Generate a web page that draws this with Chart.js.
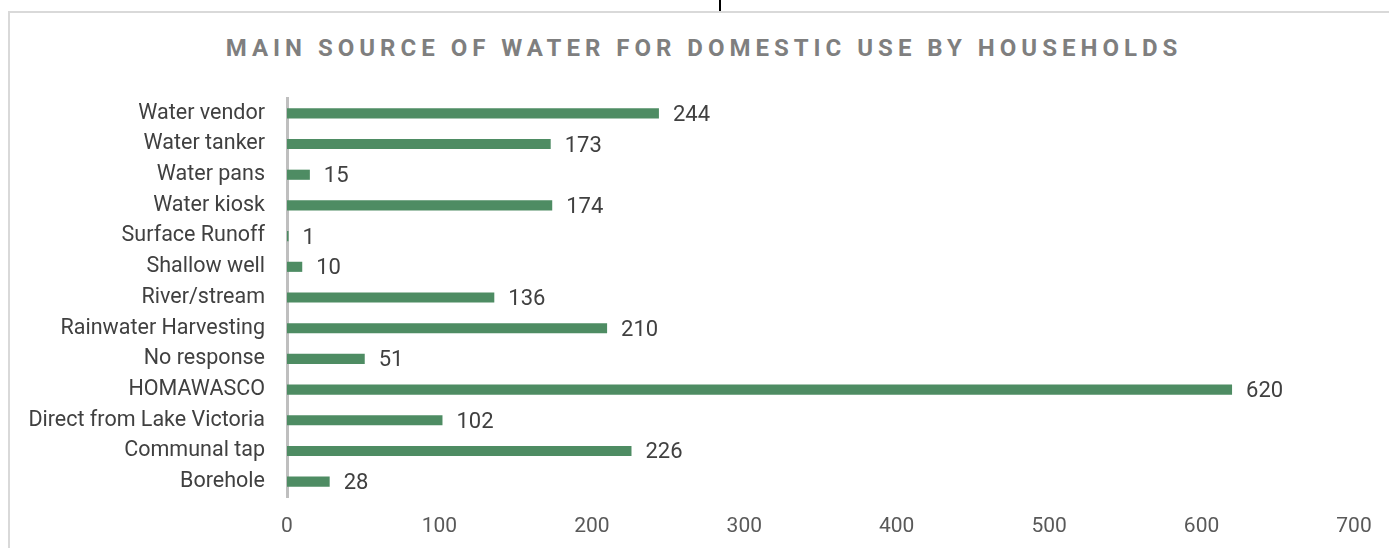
<!DOCTYPE html>
<html>
<head>
<meta charset="utf-8">
<script src="https://cdn.jsdelivr.net/npm/chart.js@4.4.0/dist/chart.umd.min.js"></script>
<style>
  html, body { margin: 0; padding: 0; background: #fff; }
  #wrap { position: relative; width: 1389px; height: 548px; overflow: hidden; }
  #frame { position: absolute; left: 8px; top: 11px; width: 1390px; height: 560px;
           border-left: 2px solid #d9d9d9; border-top: 2px solid #d9d9d9; }
  #mark { position: absolute; left: 719px; top: 0; width: 2px; height: 11px; background: #000; }
  #title { position: absolute; left: 19px; top: 34px; width: 1370px; text-align: center;
           font: bold 24px Roboto, sans-serif; letter-spacing: 5px; color: #7f7f7f; line-height: 28px; }
  canvas { position: absolute; left: 0; top: 0; }
</style>
</head>
<body>
<div id="wrap">
  <div id="frame"></div>
  <div id="mark"></div>
  <div id="title">MAIN SOURCE OF WATER FOR DOMESTIC USE BY HOUSEHOLDS</div>
  <canvas id="cav" width="1389" height="548"></canvas>
</div>
<script>
// Chart data
var categories = ['Borehole', 'Communal tap', 'Direct from Lake Victoria', 'HOMAWASCO', 'No response',
    'Rainwater Harvesting', 'River/stream', 'Shallow well', 'Surface Runoff', 'Water kiosk',
    'Water pans', 'Water tanker', 'Water vendor'];
var households = [28, 226, 102, 620, 51, 210, 136, 10, 1, 174, 15, 173, 244];
var xTicks = [0, 100, 200, 300, 400, 500, 600, 700];

var valueLabels = {
    id: 'valueLabels',
    afterDatasetsDraw: function(chart) {
        var ctx = chart.ctx;
        ctx.save();
        ctx.font = '22px Roboto, sans-serif';
        ctx.fillStyle = '#404040';
        ctx.textBaseline = 'middle';
        ctx.textAlign = 'left';
        chart.getDatasetMeta(0).data.forEach(function(bar, i) {
            ctx.fillText(households[i], bar.x + 14, bar.y + 2);
        });
        ctx.restore();
    }
};

var chart = new Chart(document.getElementById('cav'), {
    type: 'bar',
    data: {
        labels: categories,
        datasets: [{
            data: households,
            backgroundColor: '#4e8c63',
            borderWidth: 0,
            categoryPercentage: 1,
            barPercentage: 0.33
        }]
    },
    options: {
        indexAxis: 'y',
        responsive: false,
        animation: false,
        layout: { padding: { top: 98, right: 35, left: 0, bottom: 0 } },
        plugins: { legend: { display: false }, tooltip: { enabled: false } },
        scales: {
            x: {
                min: 0,
                max: 700,
                afterBuildTicks: function(scale) {
                    scale.ticks = xTicks.map(function(v) { return { value: v }; });
                },
                afterFit: function(scale) { scale.height = 51; },
                grid: { display: false, drawTicks: false },
                border: { display: false },
                ticks: { color: '#595959', font: { family: 'Roboto', size: 21 }, padding: 17 }
            },
            y: {
                reverse: true,
                afterFit: function(scale) { scale.width = 287; },
                grid: { display: false, drawTicks: false },
                border: { display: true, color: '#bfbfbf', width: 3 },
                ticks: { color: '#404040', font: { family: 'Roboto', size: 21.5 }, padding: 22 }
            }
        }
    },
    plugins: [valueLabels]
});
</script>
</body>
</html>
